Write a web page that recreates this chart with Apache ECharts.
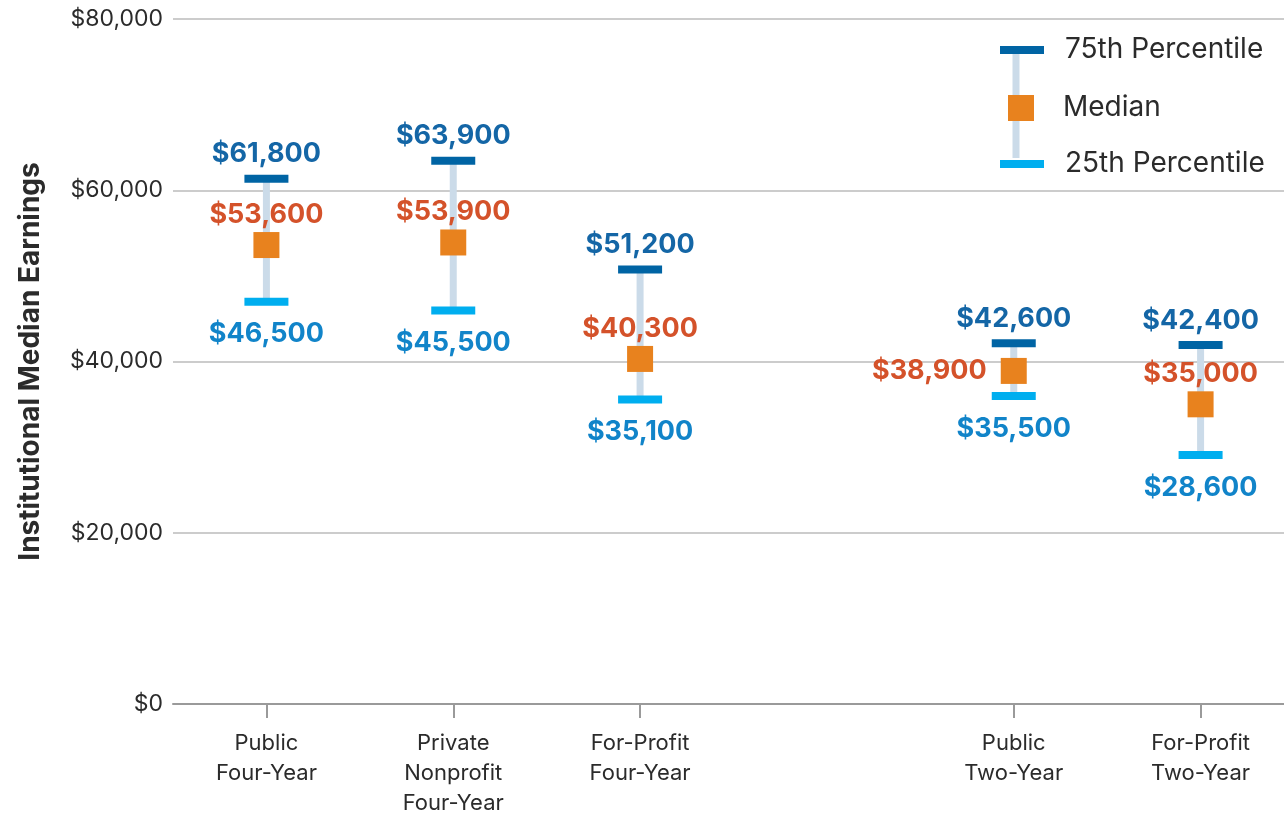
<!DOCTYPE html>
<html>
<head>
<meta charset="utf-8">
<script src="https://cdn.jsdelivr.net/npm/echarts@6/dist/echarts.min.js"></script>
<style>
  html, body { margin: 0; padding: 0; background: #fff; }
  #chart { width: 1284px; height: 815px; }
</style>
</head>
<body>
<div id="chart"></div>
<script>
// categories (empty slot makes the gap between four-year and two-year)
var categories = ['Public\nFour-Year', 'Private\nNonprofit\nFour-Year', 'For-Profit\nFour-Year', '', 'Public\nTwo-Year', 'For-Profit\nTwo-Year'];
var p75 = [61800, 63900, 51200, null, 42600, 42400];
var median = [53600, 53900, 40300, null, 38900, 35000];
var p25 = [46500, 45500, 35100, null, 35500, 28600];
var yTicks = [0, 20000, 40000, 60000, 80000];

var FONT = 'Inter, "Noto Sans", sans-serif';
var C75 = '#0064a4', C25 = '#00aeef', CMED = '#e8821e', CWHISK = '#cbdbe9';

function money(v) {
    return '$' + Number(v).toLocaleString('en-US');
}

var whiskers = [];
categories.forEach(function (c, i) {
    if (p25[i] != null) whiskers.push([i, p25[i], p75[i]]);
});

var medianData = median.map(function (v, i) {
    if (v == null) return null;
    var d = { value: [i, v] };
    if (i === 4) d.label = { position: 'left', distance: 14 };
    return d;
});

var chart = echarts.init(document.getElementById('chart'));
chart.setOption({
    animation: false,
    grid: { left: 173, top: 19, bottom: 111, width: 1121, outerBoundsMode: 'none', containLabel: false },
    xAxis: {
        type: 'category',
        data: categories,
        axisLine: { lineStyle: { color: '#9a9a9a', width: 2 } },
        axisTick: {
            show: true, alignWithLabel: true, length: 14,
            lineStyle: { color: '#9a9a9a', width: 2 },
            interval: function (idx) { return categories[idx] !== ''; }
        },
        axisLabel: {
            interval: 0, margin: 24, fontFamily: FONT, fontSize: 22,
            lineHeight: 30, color: '#2b2b2b'
        }
    },
    yAxis: {
        type: 'value', min: 0, max: 80000, interval: 20000,
        name: 'Institutional Median Earnings',
        nameLocation: 'middle', nameGap: 128,
        nameTextStyle: { fontFamily: FONT, fontSize: 28, fontWeight: 'bold', color: '#2b2b2b' },
        axisLine: { show: false },
        axisTick: { show: false },
        splitLine: { lineStyle: { color: '#cccccc', width: 2 } },
        axisLabel: {
            fontFamily: FONT, fontSize: 23, color: '#2b2b2b', margin: 10,
            formatter: function (v) { return yTicks.indexOf(v) >= 0 ? money(v) : ''; }
        }
    },
    legend: [
        {
            data: ['75th Percentile'], left: 995, top: 31, orient: 'vertical',
            itemWidth: 44, itemHeight: 8, icon: 'rect',
            textStyle: { fontFamily: FONT, fontSize: 28, color: '#2b2b2b', padding: [0, 0, 0, 16] }
        },
        {
            data: ['Median'], left: 1003, top: 89, orient: 'vertical',
            itemWidth: 26, itemHeight: 26, icon: 'rect',
            textStyle: { fontFamily: FONT, fontSize: 28, color: '#2b2b2b', padding: [0, 0, 0, 24] }
        },
        {
            data: ['25th Percentile'], left: 995, top: 145, orient: 'vertical',
            itemWidth: 44, itemHeight: 8, icon: 'rect',
            textStyle: { fontFamily: FONT, fontSize: 28, color: '#2b2b2b', padding: [0, 0, 0, 16] }
        }
    ],
    graphic: [{
        type: 'line', z: 1,
        shape: { x1: 1016, y1: 52, x2: 1016, y2: 158 },
        style: { stroke: CWHISK, lineWidth: 7 }
    }],
    series: [
        {
            type: 'custom',
            name: 'range',
            data: whiskers,
            z: 1,
            renderItem: function (params, api) {
                var a = api.coord([api.value(0), api.value(1)]);
                var b = api.coord([api.value(0), api.value(2)]);
                return {
                    type: 'line',
                    shape: { x1: a[0], y1: a[1] - 4, x2: b[0], y2: b[1] + 4 },
                    style: { stroke: CWHISK, lineWidth: 7 }
                };
            }
        },
        {
            type: 'scatter', name: '75th Percentile', z: 3,
            symbol: 'rect', symbolSize: [44, 8], symbolOffset: [0, 4],
            itemStyle: { color: C75, opacity: 1 },
            data: p75.map(function (v, i) { return v == null ? null : [i, v]; }),
            label: {
                show: true, position: 'top', distance: 7,
                fontFamily: FONT, fontSize: 27, fontWeight: 'bold', color: '#1466a6',
                formatter: function (p) { return money(p.value[1]); }
            }
        },
        {
            type: 'scatter', name: '25th Percentile', z: 3,
            symbol: 'rect', symbolSize: [44, 8], symbolOffset: [0, -4],
            itemStyle: { color: C25, opacity: 1 },
            data: p25.map(function (v, i) { return v == null ? null : [i, v]; }),
            label: {
                show: true, position: 'bottom', distance: 15,
                fontFamily: FONT, fontSize: 27, fontWeight: 'bold', color: '#1184c9',
                formatter: function (p) { return money(p.value[1]); }
            }
        },
        {
            type: 'scatter', name: 'Median', z: 4,
            symbol: 'rect', symbolSize: 26,
            itemStyle: { color: CMED, opacity: 1 },
            data: medianData,
            label: {
                show: true, position: 'top', distance: 4,
                fontFamily: FONT, fontSize: 27, fontWeight: 'bold', color: '#d4522a',
                formatter: function (p) { return money(p.value[1]); }
            }
        }
    ]
});
</script>
</body>
</html>
